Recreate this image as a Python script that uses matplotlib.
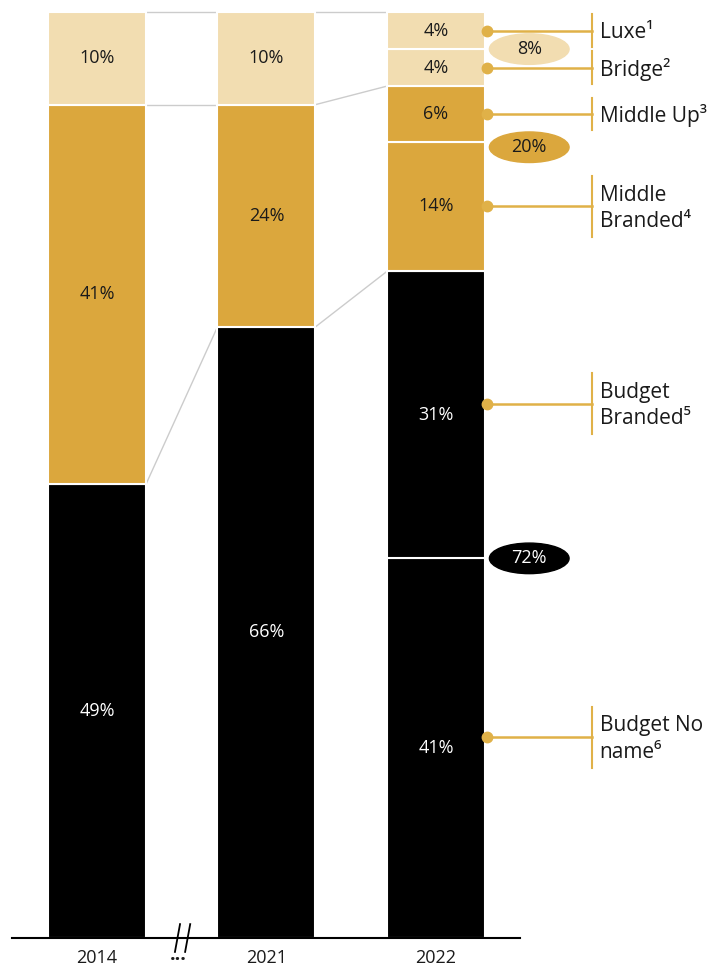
import matplotlib
matplotlib.use("Agg")
from matplotlib import pyplot as plt, patches

plt.rcParams['font.family'] = ['Open Sans', 'DejaVu Sans']

years = ["2014", "2021", "2022"]
# segment shares, bottom to top, and which price group each belongs to
segments = [
    [49, 41, 10],
    [66, 24, 10],
    [41, 31, 14, 6, 4, 4],
]
segment_groups = [
    [0, 1, 2],
    [0, 1, 2],
    [0, 0, 1, 1, 2, 2],
]
names_2022 = ["Budget No\nname⁶", "Budget\nBranded⁵", "Middle\nBranded⁴",
              "Middle Up³", "Bridge²", "Luxe¹"]
group_totals_2022 = [72, 20, 8]

group_colors = ["#000000", "#DBA73D", "#F2DDB1"]
text_colors = ["white", "#1a1a1a", "#1a1a1a"]
guide_color = "#E0B148"
link_color = "#cccccc"

fig = plt.figure(figsize=(7.23, 9.67), dpi=100)
ax = fig.add_axes([0, 0, 1, 1])
ax.set_xlim(-0.572, 3.693)
ax.set_ylim(-3.13, 101.3)
ax.axis("off")

bar_w = 0.578
group_tops = []
for i, (vals, grps) in enumerate(zip(segments, segment_groups)):
    bottom = 0
    tops = {}
    for v, g in zip(vals, grps):
        ax.bar(i, v, bottom=bottom, width=bar_w, color=group_colors[g],
               edgecolor="white", linewidth=1.5, zorder=2)
        ax.text(i, bottom + v / 2, f"{v}%", ha="center", va="center",
                fontsize=13, color=text_colors[g], zorder=3)
        bottom += v
        tops[g] = bottom
    group_tops.append([tops[0], tops[1], tops[2]])

# grey links between group boundaries of adjacent bars
for i in range(len(years) - 1):
    for a, b in zip(group_tops[i], group_tops[i + 1]):
        ax.plot([i + bar_w / 2, i + 1 - bar_w / 2], [a, b],
                color=link_color, lw=1, zorder=1)

# callouts for 2022 segments
vals = segments[2]
bottom = 0
x_dot = 2 + bar_w / 2 + 0.01
x_tick = 2.92
for v, name in zip(vals, names_2022):
    y = bottom + v / 2
    bottom += v
    two_lines = "\n" in name
    if two_lines and bottom < 80:
        y += 1.2  # the lower callouts sit a little above the middle
    ax.plot([x_dot, x_tick], [y, y], color=guide_color, lw=1.8, zorder=3)
    ax.plot(x_dot, y, "o", color=guide_color, ms=7.5, zorder=4)
    half = 3.3 if two_lines else 1.75
    ax.plot([x_tick, x_tick], [y - half, y + half], color=guide_color, lw=1.5)
    ax.text(x_tick + 0.045, y - 0.2, name, ha="left", va="center", fontsize=15,
            color="#1a1a1a", linespacing=1.35)

# group total ellipses at inner boundaries
boundaries = []
cum = 0
for v, g, nxt in zip(vals, segment_groups[2], segment_groups[2][1:] + [None]):
    cum += v
    if nxt == g:
        boundaries.append((cum, g))
for (yb, g), total in zip(boundaries, group_totals_2022):
    if g == 1:
        yb -= 0.6
    ax.add_patch(patches.Ellipse((2.55, yb), 0.47, 3.3, color=group_colors[g], zorder=3))
    ax.text(2.55, yb, f"{total}%", ha="center", va="center", fontsize=13,
            color=text_colors[g], zorder=4)

# baseline, year labels and axis break
ax.plot([-0.5, 2.496], [0, 0], color="black", lw=1.5, zorder=5)
for i, yr in enumerate(years):
    ax.text(i, -2.2, yr, ha="center", va="center", fontsize=13, color="#1a1a1a")
for dx in (0.0, 0.06):
    ax.plot([0.46 + dx, 0.49 + dx], [-1.5, 1.5], color="black", lw=1.3, zorder=6)
ax.text(0.48, -2.9, "...", ha="center", va="bottom", fontsize=14,
        fontweight="bold", color="#1a1a1a")

fig.savefig("out.png", dpi=100)
